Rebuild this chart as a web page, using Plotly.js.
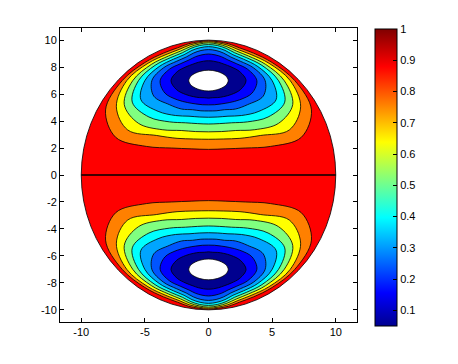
<!DOCTYPE html>
<html>
<head>
<meta charset="utf-8">
<script src="https://cdn.plot.ly/plotly-3.0.1.min.js"></script>
<style>
html,body{margin:0;padding:0;background:#ffffff;}
#chart{width:458px;height:364px;}
</style>
</head>
<body>
<div id="chart"></div>
<script>
// ---------- data ----------
const xTickValues = [-10, -5, 0, 5, 10];
const xTickLabels = ['-10', '-5', '0', '5', '10'];
const yTickValues = [-10, -8, -6, -4, -2, 0, 2, 4, 6, 8, 10];
const yTickLabels = ['-10', '-8', '-6', '-4', '-2', '0', '2', '4', '6', '8', '10'];
const colorbarTickValues = [0.1, 0.2, 0.3, 0.4, 0.5, 0.6, 0.7, 0.8, 0.9, 1];
const colorbarTickLabels = ['0.1', '0.2', '0.3', '0.4', '0.5', '0.6', '0.7', '0.8', '0.9', '1'];
const valueRange = [0.05, 1];
const contourLevels = [0.9, 0.8, 0.7, 0.6, 0.5, 0.4, 0.3, 0.2, 0.1];
const diskRadius = 10;
const levelOneLineX = [-10, 10];
const levelOneLineY = [0, 0];

// contour lines, upper lobe (y > 0) and lower lobe (y < 0)
const c1X = [0, -1.36, -2.89, -4.88, -7.29, -8.09, -6.78, -5.0, -3.53, -2.43, -1.58, -0.77, 0, 0.77, 1.58, 2.43, 3.53, 5.0, 6.78, 8.09, 7.29, 4.88, 2.89, 1.36, 0];
const c1YUpper = [1.9, 1.94, 2.0, 2.12, 2.79, 4.83, 7.0, 8.34, 9.04, 9.43, 9.73, 9.88, 9.95, 9.88, 9.73, 9.43, 9.04, 8.34, 7.0, 4.83, 2.79, 2.12, 2.0, 1.94, 1.9];
const c1YLower = [-1.9, -1.94, -2.0, -2.12, -2.79, -4.83, -7.0, -8.34, -9.04, -9.43, -9.73, -9.88, -9.95, -9.88, -9.73, -9.43, -9.04, -8.34, -7.0, -4.83, -2.79, -2.12, -2.0, -1.94, -1.9];

const c2X = [0, -1.16, -2.47, -4.07, -6.35, -7.24, -6.42, -4.76, -3.34, -2.31, -1.52, -0.75, 0, 0.75, 1.52, 2.31, 3.34, 4.76, 6.42, 7.24, 6.35, 4.07, 2.47, 1.16, 0];
const c2YUpper = [2.65, 2.67, 2.72, 2.93, 3.34, 5.06, 7.0, 8.28, 8.93, 9.31, 9.62, 9.8, 9.88, 9.8, 9.62, 9.31, 8.93, 8.28, 7.0, 5.06, 3.34, 2.93, 2.72, 2.67, 2.65];
const c2YLower = [-2.65, -2.67, -2.72, -2.93, -3.34, -5.06, -7.0, -8.28, -8.93, -9.31, -9.62, -9.8, -9.88, -9.8, -9.62, -9.31, -8.93, -8.28, -7.0, -5.06, -3.34, -2.93, -2.72, -2.67, -2.65];

const c3X = [0, -1.01, -2.14, -3.64, -5.5, -6.62, -5.95, -4.49, -3.15, -2.19, -1.45, -0.73, 0, 0.73, 1.45, 2.19, 3.15, 4.49, 5.95, 6.62, 5.5, 3.64, 2.14, 1.01, 0];
const c3YUpper = [3.2, 3.22, 3.3, 3.36, 3.83, 5.23, 7.0, 8.2, 8.82, 9.19, 9.51, 9.71, 9.8, 9.71, 9.51, 9.19, 8.82, 8.2, 7.0, 5.23, 3.83, 3.36, 3.3, 3.22, 3.2];
const c3YLower = [-3.2, -3.22, -3.3, -3.36, -3.83, -5.23, -7.0, -8.2, -8.82, -9.19, -9.51, -9.71, -9.8, -9.71, -9.51, -9.19, -8.82, -8.2, -7.0, -5.23, -3.83, -3.36, -3.3, -3.22, -3.2];

const c4X = [0, -0.85, -1.81, -3.06, -4.68, -5.99, -5.5, -4.2, -2.96, -2.06, -1.38, -0.7, 0, 0.7, 1.38, 2.06, 2.96, 4.2, 5.5, 5.99, 4.68, 3.06, 1.81, 0.85, 0];
const c4YUpper = [3.78, 3.81, 3.87, 3.94, 4.3, 5.4, 7.0, 8.13, 8.71, 9.06, 9.39, 9.6, 9.67, 9.6, 9.39, 9.06, 8.71, 8.13, 7.0, 5.4, 4.3, 3.94, 3.87, 3.81, 3.78];
const c4YLower = [-3.78, -3.81, -3.87, -3.94, -4.3, -5.4, -7.0, -8.13, -8.71, -9.06, -9.39, -9.6, -9.67, -9.6, -9.39, -9.06, -8.71, -8.13, -7.0, -5.4, -4.3, -3.94, -3.87, -3.81, -3.78];

const c5X = [0, -0.73, -1.53, -2.59, -3.96, -5.31, -5.0, -3.88, -2.75, -1.92, -1.3, -0.66, 0, 0.66, 1.3, 1.92, 2.75, 3.88, 5.0, 5.31, 3.96, 2.59, 1.53, 0.73, 0];
const c5YUpper = [4.28, 4.3, 4.36, 4.41, 4.72, 5.58, 7.0, 8.04, 8.59, 8.92, 9.24, 9.44, 9.52, 9.44, 9.24, 8.92, 8.59, 8.04, 7.0, 5.58, 4.72, 4.41, 4.36, 4.3, 4.28];
const c5YLower = [-4.28, -4.3, -4.36, -4.41, -4.72, -5.58, -7.0, -8.04, -8.59, -8.92, -9.24, -9.44, -9.52, -9.44, -9.24, -8.92, -8.59, -8.04, -7.0, -5.58, -4.72, -4.41, -4.36, -4.3, -4.28];

const c6X = [0, -0.6, -1.25, -2.11, -3.08, -4.3, -4.45, -3.53, -2.49, -1.75, -1.18, -0.6, 0, 0.6, 1.18, 1.75, 2.49, 3.53, 4.45, 4.3, 3.08, 2.11, 1.25, 0.6, 0];
const c6YUpper = [4.75, 4.76, 4.84, 4.89, 5.22, 5.85, 7.0, 7.95, 8.44, 8.75, 9.04, 9.23, 9.3, 9.23, 9.04, 8.75, 8.44, 7.95, 7.0, 5.85, 5.22, 4.89, 4.84, 4.76, 4.75];
const c6YLower = [-4.75, -4.76, -4.84, -4.89, -5.22, -5.85, -7.0, -7.95, -8.44, -8.75, -9.04, -9.23, -9.3, -9.23, -9.04, -8.75, -8.44, -7.95, -7.0, -5.85, -5.22, -4.89, -4.84, -4.76, -4.75];

const c7X = [0, -0.48, -1.0, -1.63, -2.46, -3.43, -3.8, -3.09, -2.18, -1.53, -1.02, -0.51, 0, 0.51, 1.02, 1.53, 2.18, 3.09, 3.8, 3.43, 2.46, 1.63, 1.0, 0.48, 0];
const c7YUpper = [5.2, 5.21, 5.27, 5.37, 5.58, 6.08, 7.0, 7.83, 8.26, 8.53, 8.77, 8.91, 8.97, 8.91, 8.77, 8.53, 8.26, 7.83, 7.0, 6.08, 5.58, 5.37, 5.27, 5.21, 5.2];
const c7YLower = [-5.2, -5.21, -5.27, -5.37, -5.58, -6.08, -7.0, -7.83, -8.26, -8.53, -8.77, -8.91, -8.97, -8.91, -8.77, -8.53, -8.26, -7.83, -7.0, -6.08, -5.58, -5.37, -5.27, -5.21, -5.2];

const c8X = [0, -0.34, -0.73, -1.19, -1.79, -2.51, -2.95, -2.46, -1.77, -1.22, -0.79, -0.39, 0, 0.39, 0.79, 1.22, 1.77, 2.46, 2.95, 2.51, 1.79, 1.19, 0.73, 0.34, 0];
const c8YUpper = [5.7, 5.73, 5.74, 5.81, 5.97, 6.33, 7.0, 7.66, 8.02, 8.22, 8.36, 8.44, 8.47, 8.44, 8.36, 8.22, 8.02, 7.66, 7.0, 6.33, 5.97, 5.81, 5.74, 5.73, 5.7];
const c8YLower = [-5.7, -5.73, -5.74, -5.81, -5.97, -6.33, -7.0, -7.66, -8.02, -8.22, -8.36, -8.44, -8.47, -8.44, -8.36, -8.22, -8.02, -7.66, -7.0, -6.33, -5.97, -5.81, -5.74, -5.73, -5.7];

const c9X = [0, -0.68, -1.35, -1.55, -1.35, -0.68, 0, 0.68, 1.35, 1.55, 1.35, 0.68, 0];
const c9YUpper = [6.23, 6.32, 6.64, 7.0, 7.36, 7.68, 7.77, 7.68, 7.36, 7.0, 6.64, 6.32, 6.23];
const c9YLower = [-6.23, -6.32, -6.64, -7.0, -7.36, -7.68, -7.77, -7.68, -7.36, -7.0, -6.64, -6.32, -6.23];

// ---------- styles ----------
const outerFill = 'rgb(255,0,0)';
const bandFills = [
  'rgb(255,128,0)',
  'rgb(255,255,0)',
  'rgb(128,255,128)',
  'rgb(0,255,255)',
  'rgb(0,165,255)',
  'rgb(0,85,255)',
  'rgb(0,0,255)',
  'rgb(0,0,143)',
  'rgb(255,255,255)'
];
const jet = [
  [0, 'rgb(0,0,143)'], [0.111, 'rgb(0,0,255)'], [0.365, 'rgb(0,255,255)'],
  [0.619, 'rgb(255,255,0)'], [0.873, 'rgb(255,0,0)'], [1, 'rgb(128,0,0)']
];
const font = {family: 'Liberation Sans, Arial, sans-serif', size: 11, color: '#000'};

const contourXs = [c1X, c2X, c3X, c4X, c5X, c6X, c7X, c8X, c9X];
const contourYUpper = [c1YUpper, c2YUpper, c3YUpper, c4YUpper, c5YUpper, c6YUpper, c7YUpper, c8YUpper, c9YUpper];
const contourYLower = [c1YLower, c2YLower, c3YLower, c4YLower, c5YLower, c6YLower, c7YLower, c8YLower, c9YLower];

const traces = [];
function addLobe(ys) {
  for (let i = 0; i < contourXs.length; i++) {
    traces.push({
      type: 'scatter', mode: 'lines',
      x: contourXs[i], y: ys[i],
      fill: 'toself', fillcolor: bandFills[i],
      line: {color: '#000', width: 0.8, shape: 'spline', smoothing: 1},
      hoverinfo: 'skip', showlegend: false,
      name: i < contourLevels.length ? 'level ' + contourLevels[i] : 'hole'
    });
  }
}
addLobe(contourYUpper);
addLobe(contourYLower);

traces.push({
  type: 'scatter', mode: 'lines', x: levelOneLineX, y: levelOneLineY,
  line: {color: '#000', width: 1.3}, hoverinfo: 'skip', showlegend: false
});

// colour bar
traces.push({
  type: 'scatter', mode: 'markers', x: [null], y: [null],
  hoverinfo: 'skip', showlegend: false,
  marker: {
    color: [valueRange[0]], cmin: valueRange[0], cmax: valueRange[1],
    colorscale: jet, showscale: true, opacity: 0,
    colorbar: {
      thickness: 22, thicknessmode: 'pixels',
      len: 297, lenmode: 'pixels',
      x: 1.0606, xanchor: 'left', xpad: 0,
      y: 0.4915, yanchor: 'middle', ypad: 0,
      outlinecolor: '#000', outlinewidth: 1,
      tickvals: colorbarTickValues, ticktext: colorbarTickLabels,
      ticks: 'inside', ticklen: 4, tickcolor: '#000',
      tickfont: font
    }
  }
});

const axisCommon = {
  ticks: 'inside', ticklen: 4, tickcolor: '#000', tickwidth: 1,
  showline: true, linecolor: '#000', linewidth: 1, mirror: 'ticks',
  showgrid: false, zeroline: false, tickfont: font, fixedrange: true
};

const layout = {
  width: 458, height: 364,
  margin: {l: 60, r: 101, t: 28, b: 42, pad: 0},
  paper_bgcolor: '#fff', plot_bgcolor: '#fff',
  showlegend: false,
  xaxis: Object.assign({}, axisCommon, {range: [-11.67, 11.67], tickvals: xTickValues, ticktext: xTickLabels}),
  yaxis: Object.assign({}, axisCommon, {range: [-10.9, 10.9], tickvals: yTickValues, ticktext: yTickLabels}),
  shapes: [{
    type: 'circle', xref: 'x', yref: 'y',
    x0: -diskRadius, x1: diskRadius, y0: -diskRadius, y1: diskRadius,
    fillcolor: outerFill, line: {color: '#000', width: 0.8}, layer: 'below'
  }]
};

Plotly.newPlot('chart', traces, layout, {staticPlot: true, displayModeBar: false});
</script>
</body>
</html>
